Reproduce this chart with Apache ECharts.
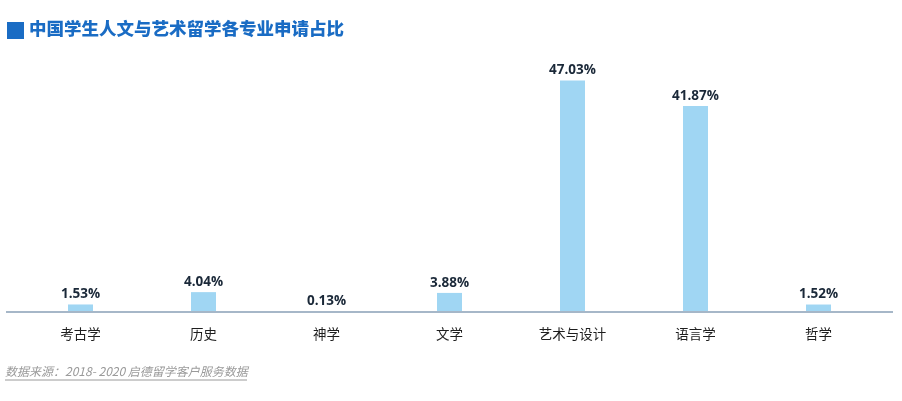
<!DOCTYPE html>
<html><head><meta charset="utf-8">
<script src="https://cdn.jsdelivr.net/npm/echarts@6/dist/echarts.min.js"></script>
<style>html,body{margin:0;padding:0;background:#fff}#c{width:902px;height:401px}</style>
</head><body><div id="c"></div>
<script>
const categories = ['考古学','历史','神学','文学','艺术与设计','语言学','哲学'];
const shares = [1.53, 4.04, 0.13, 3.88, 47.03, 41.87, 1.52];
const titleText = '中国学生人文与艺术留学各专业申请占比';
const sourceText = '数据来源：2018- 2020 启德留学客户服务数据';

const chart = echarts.init(document.getElementById('c'));
const CJK = '"Noto Sans CJK SC", sans-serif';
chart.setOption({
  animation: false,
  grid: {left: 19, right: 22, top: 66, bottom: 89},
  xAxis: {
    type: 'category', data: categories,
    axisLine: {show: false}, axisTick: {show: false},
    axisLabel: {color: '#1e1e1e', fontSize: 13.5, fontFamily: CJK, margin: 15}
  },
  yAxis: {type: 'value', min: 0, max: 50, show: false, splitLine: {show: false}},
  series: [{
    type: 'bar', data: shares, barWidth: 25,
    itemStyle: {color: '#a0d6f3'},
    label: {show: true, position: 'top', distance: 3, formatter: p => p.value.toFixed(2) + '%',
      color: '#1a2838', fontSize: 13.5, fontWeight: 'bold', fontFamily: '"Open Sans", sans-serif'}
  }],
  graphic: [
    {type: 'rect', left: 7, top: 22, shape: {width: 17, height: 17}, style: {fill: '#1a6cc4'}},
    {type: 'text', left: 29, top: 20, style: {text: titleText, fill: '#1a6cc4', font: '900 17.5px "Noto Sans CJK SC", sans-serif'}},
    {type: 'line', shape: {x1: 6, y1: 312, x2: 893, y2: 312}, style: {stroke: '#a6b7c8', lineWidth: 2}, z: 10},
    {type: 'text', left: 5, top: 365, style: {text: sourceText, fill: '#9a9a9a', font: 'italic 12px "Noto Sans CJK SC", sans-serif'}},
    {type: 'line', shape: {x1: 5, y1: 380, x2: 247, y2: 380}, style: {stroke: '#9a9a9a', lineWidth: 1}}
  ]
});
</script></body></html>
